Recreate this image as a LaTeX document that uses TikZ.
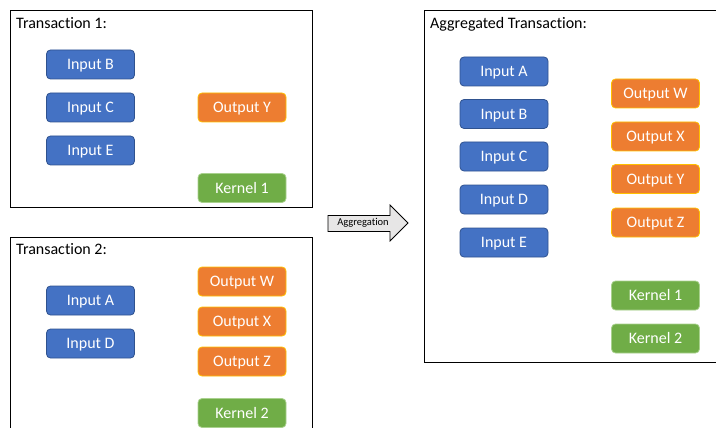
\documentclass[tikz,border=0pt]{standalone}
\usepackage{fontspec}
\setmainfont{Carlito}[Ligatures=NoCommon]
\definecolor{inblue}{HTML}{4472C4}
\definecolor{inblueedge}{HTML}{2F528F}
\definecolor{outorange}{HTML}{ED7D31}
\definecolor{outorangeedge}{HTML}{FFC000}
\definecolor{kergreen}{HTML}{70AD47}
\definecolor{kergreenedge}{HTML}{A9D18E}
\definecolor{arrowfill}{HTML}{E7E6E6}
\begin{document}
\begin{tikzpicture}[x=1pt,y=-1pt,
  frame/.style={draw=black,line width=1pt},
  title/.style={anchor=base west,inner sep=0pt,font=\fontsize{16}{19}\selectfont},
  item/.style={rounded corners=4pt,minimum width=88pt,minimum height=29pt,inner sep=0pt,
    text height=10.3pt,text depth=0pt,
    text=white,line width=0.8pt,font=\fontsize{16}{19}\selectfont},
  inbox/.style={item,fill=inblue,draw=inblueedge},
  outbox/.style={item,fill=outorange,draw=outorangeedge},
  kerbox/.style={item,fill=kergreen,draw=kergreenedge},
  bigarrow/.style={draw=black,fill=arrowfill,line width=0.75pt,line join=miter}]
\useasboundingbox (0,0) rectangle (716,428);
\clip (0,0) rectangle (716,428);

% transaction frames
\draw[frame] (10,11) rectangle (312,207.5);
\draw[frame] (10,237) rectangle (312,440);
\draw[frame] (424,11) rectangle (730,362);

% titles
\node[title] (t1) at (16,29) {Transaction 1:};
\node[title] (t2) at (16,254) {Transaction 2:};
\node[title] (t3) at (430,29) {Aggregated Transaction:};

% transaction 1
\node[inbox] (t1b) at (90.5,64.5) {Input B};
\node[inbox] (t1c) at (90.5,107.5) {Input C};
\node[inbox] (t1e) at (90.5,150.5) {Input E};
\node[outbox] (t1y) at (242,107.5) {Output Y};
\node[kerbox] (t1k) at (242,188) {Kernel 1};

% transaction 2
\node[inbox] (t2a) at (90.5,300.5) {Input A};
\node[inbox] (t2d) at (90.5,343.5) {Input D};
\node[outbox] (t2w) at (242,281.5) {Output W};
\node[outbox] (t2x) at (242,321.5) {Output X};
\node[outbox] (t2z) at (242,361.5) {Output Z};
\node[kerbox] (t2k) at (242,413) {Kernel 2};

% aggregated transaction
\node[inbox] (aa) at (504,71.5) {Input A};
\node[inbox] (ab) at (504,114) {Input B};
\node[inbox] (ac) at (504,156.5) {Input C};
\node[inbox] (ad) at (504,199.5) {Input D};
\node[inbox] (ae) at (504,242.5) {Input E};
\node[outbox] (aw) at (655.5,93.5) {Output W};
\node[outbox] (ax) at (655.5,136.5) {Output X};
\node[outbox] (ay) at (655.5,179) {Output Y};
\node[outbox] (az) at (655.5,222.5) {Output Z};
\node[kerbox] (ak1) at (655.5,295.5) {Kernel 1};
\node[kerbox] (ak2) at (655.5,338.5) {Kernel 2};

% block arrow between the frames
\draw[bigarrow] (328,215.5) -- (390,215.5) -- (390,205) -- (408,223) -- (390,241)
  -- (390,231.5) -- (328,231.5) -- cycle;
\node[inner sep=0pt,text height=6.8pt,text depth=0pt,font=\fontsize{10.5}{12}\selectfont]
  (agg) at (363,222.5) {Aggregation};
\end{tikzpicture}
\end{document}
